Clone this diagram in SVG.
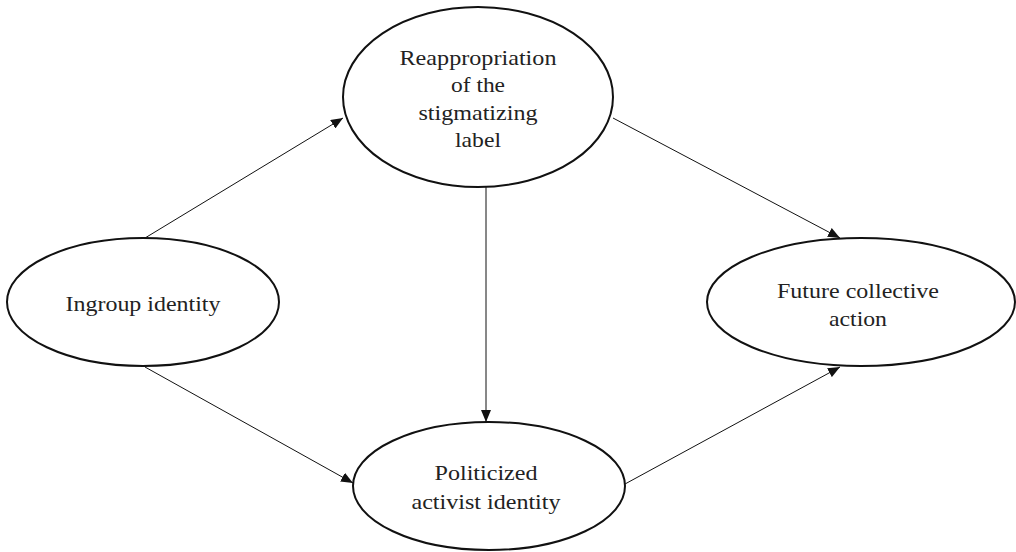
<svg xmlns="http://www.w3.org/2000/svg" width="1016" height="552" viewBox="0 0 1016 552">
<style>
.node{fill:#fff;stroke:#111;stroke-width:2}
.lbl{font-family:"Liberation Serif","Times New Roman",serif;font-size:22px;fill:#222;text-anchor:middle}
.edge{stroke:#111;stroke-width:1;fill:none;marker-end:url(#ah)}
</style>
<defs>
<marker id="ah" viewBox="0 0 12 10" refX="12" refY="5" markerWidth="12" markerHeight="10" markerUnits="userSpaceOnUse" orient="auto">
<path d="M0,0 L12,5 L0,10 Z" fill="#111"/>
</marker>
</defs>
<rect width="1016" height="552" fill="#fff"/>
<g id="connectors">
<line class="edge" x1="145" y1="238" x2="343" y2="118"/>
<line class="edge" x1="145" y1="367" x2="353" y2="483"/>
<line class="edge" x1="486" y1="182" x2="486" y2="422"/>
<line class="edge" x1="613" y1="118" x2="840" y2="238"/>
<line class="edge" x1="625" y1="484" x2="840" y2="367"/>
</g>
<g id="reappropriation">
<ellipse class="node" cx="478" cy="97" rx="135" ry="90"/>
<text class="lbl" x="478" y="65" textLength="157" lengthAdjust="spacingAndGlyphs">Reappropriation</text>
<text class="lbl" x="478" y="92" textLength="54" lengthAdjust="spacingAndGlyphs">of the</text>
<text class="lbl" x="478" y="120" textLength="119" lengthAdjust="spacingAndGlyphs">stigmatizing</text>
<text class="lbl" x="478" y="147" textLength="46" lengthAdjust="spacingAndGlyphs">label</text>
</g>
<g id="ingroup">
<ellipse class="node" cx="143" cy="302" rx="136" ry="64"/>
<text class="lbl" x="143" y="311" textLength="155" lengthAdjust="spacingAndGlyphs">Ingroup identity</text>
</g>
<g id="future">
<ellipse class="node" cx="861" cy="302" rx="154" ry="64"/>
<text class="lbl" x="858" y="298" textLength="162" lengthAdjust="spacingAndGlyphs">Future collective</text>
<text class="lbl" x="858" y="326" textLength="58" lengthAdjust="spacingAndGlyphs">action</text>
</g>
<g id="politicized">
<ellipse class="node" cx="489" cy="486" rx="136" ry="64"/>
<text class="lbl" x="486" y="480" textLength="103" lengthAdjust="spacingAndGlyphs">Politicized</text>
<text class="lbl" x="486" y="509" textLength="149" lengthAdjust="spacingAndGlyphs">activist identity</text>
</g>
</svg>
